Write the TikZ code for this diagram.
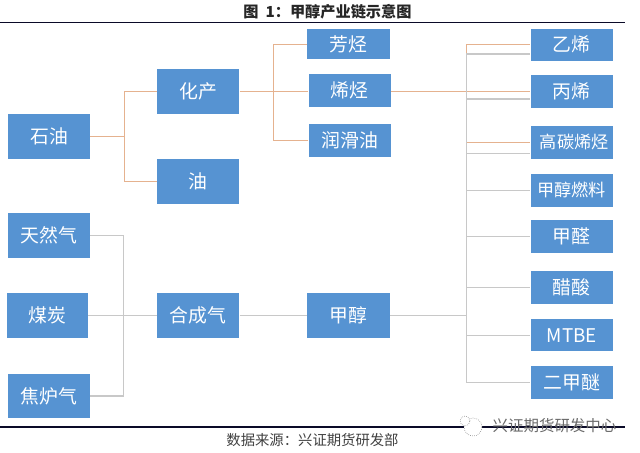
\documentclass[tikz,border=0pt]{standalone}
\usepackage{xcolor}
\usepackage{fontspec}
\usepackage{tikz}
\usetikzlibrary{positioning, calc}
\setmainfont{Noto Sans CJK SC}
\definecolor{myblue}{RGB}{86,147,210}
\definecolor{myorange}{RGB}{229,178,143}
\definecolor{mygray}{RGB}{200,200,200}
\definecolor{mynavy}{RGB}{10,10,40}
\definecolor{mytext}{RGB}{64,64,64}
\definecolor{mymark}{RGB}{105,105,105}
\tikzset{
  block/.style={rectangle, fill=myblue, text=white, inner sep=0pt,
    minimum width=2.06cm, minimum height=1.12cm,
    font=\fontsize{13.4}{15}\selectfont},
  thinblock/.style={block, minimum height=0.83cm},
  oilline/.style={color=myorange, line width=0.7pt},
  gasline/.style={color=mygray, line width=0.8pt},
  rule/.style={color=mynavy, line width=0.75pt},
  markring/.style={circle, draw=mymark, fill=white, densely dotted, line width=0.4pt, inner sep=0pt}
}
\begin{document}
\begin{tikzpicture}[x=0.025cm, y=-0.025cm]
  \useasboundingbox (0, 0) rectangle (640, 453);

  % Title and rules
  \node[font=\fontsize{10.8}{12}\selectfont\bfseries, color=black!85] (title) at (327.5, 12) {图\ \ 1\symbol{"FF1A}甲醇产业链示意图};
  \coordinate (ruleta) at (0, 22.5);
  \coordinate (ruletb) at (625, 22.5);
  \coordinate (rulela) at (0, 427);
  \coordinate (rulelb) at (625, 427);
  \draw[rule] (ruleta) -- (ruletb);
  \draw[rule] (rulela) -- (rulelb);

  % Left column
  \node[block] (oil) at (49, 136.5) {石油};
  \node[block] (gas) at (49, 235.3) {天然气};
  \node[block, minimum width=2.02cm] (coal) at (47.5, 315.6) {煤炭};
  \node[block] (coke) at (49, 396) {焦炉气};

  % Second column
  \node[block] (chem) at (198.2, 91.3) {化产};
  \node[block] (fuel) at (198.2, 181.5) {油};
  \node[block] (syn) at (198.2, 315.6) {合成气};

  % Third column
  \node[thinblock, minimum height=0.75cm] (arom) at (348.3, 44) {芳烃};
  \node[thinblock] (olef) at (349.8, 90.5) {烯烃};
  \node[thinblock] (lube) at (349.8, 140.7) {润滑油};
  \node[block] (meoh) at (348.3, 315.6) {甲醇};

  % Right column
  \node[thinblock, minimum height=0.79cm] (ethy) at (571.8, 44.7) {乙烯};
  \node[thinblock] (prop) at (571.8, 91.5) {丙烯};
  \node[thinblock, font=\fontsize{12.2}{14}\selectfont] (high) at (571.8, 142.3) {\hspace*{3.5pt}高碳烯烃};
  \node[thinblock, font=\fontsize{12.2}{14}\selectfont] (mfuel) at (571.8, 190.3) {甲醇燃料};
  \node[thinblock] (form) at (571.8, 236.5) {甲醛};
  \node[thinblock] (acet) at (571.8, 287.8) {醋酸};
  \node[thinblock, minimum height=0.81cm] (mtbe) at (571.8, 335.2) {MTBE};
  \node[thinblock] (dme) at (571.8, 382.2) {二甲醚};

  % Junctions
  \coordinate (oilbus) at (124, 136.5);
  \coordinate (chembus) at (273.3, 91.3);
  \coordinate (gasbus) at (123.3, 315.6);
  \coordinate (olefbus) at (466.7, 91.3);
  \coordinate (meohbus) at (466.7, 315.6);
  \coordinate (ethyin) at ($(ethy.west)+(0, 9.3)$);
  \coordinate (propin) at ($(prop.west)+(0, 7.5)$);
  \coordinate (highin) at ($(high.west)+(0, 11)$);

  % Orange branches
  \draw[oilline] (oil.east) -- (oilbus);
  \draw[oilline] (oilbus) |- (chem.west);
  \draw[oilline] (oilbus) |- (fuel.west);
  \draw[oilline] (chem.east) -- (chem.east -| olef.west);
  \draw[oilline] (chembus) |- (arom.west);
  \draw[oilline] (chembus) |- (lube.west);
  \draw[oilline] (olef.east |- prop.west) -- (prop.west);
  \draw[oilline] (olefbus) |- (ethy.west);
  \draw[oilline] (olefbus) |- (high.west);

  % Grey branches
  \draw[gasline] (gas.east) -| (gasbus) |- (coke.east);
  \draw[gasline] (coal.east) -- (syn.west);
  \draw[gasline] (syn.east) -- (meoh.west);
  \draw[gasline] (meoh.east) -- (meohbus);
  \draw[gasline] (meohbus) |- (ethyin);
  \draw[gasline] (meohbus) |- (propin);
  \draw[gasline] (meohbus) |- (highin);
  \draw[gasline] (meohbus) |- (mfuel.west);
  \draw[gasline] (meohbus) |- (form.west);
  \draw[gasline] (meohbus) |- (acet.west);
  \draw[gasline] (meohbus) |- (mtbe.west);
  \draw[gasline] (meohbus) |- (dme.west);

  % Source line and mark
  \node[font=\fontsize{10.2}{12}\selectfont, color=mytext] (source) at (312.5, 440) {数据来源\symbol{"FF1A}兴证期货研发部};
  \node[markring, minimum size=0.45cm] (markb) at (473, 427) {};
  \node[markring, minimum size=0.25cm] (marka) at (465, 421) {};
  \node[font=\fontsize{11}{12}\selectfont, color=mymark] (mark) at (554.5, 426) {兴证期货研发中心};
\end{tikzpicture}
\end{document}
